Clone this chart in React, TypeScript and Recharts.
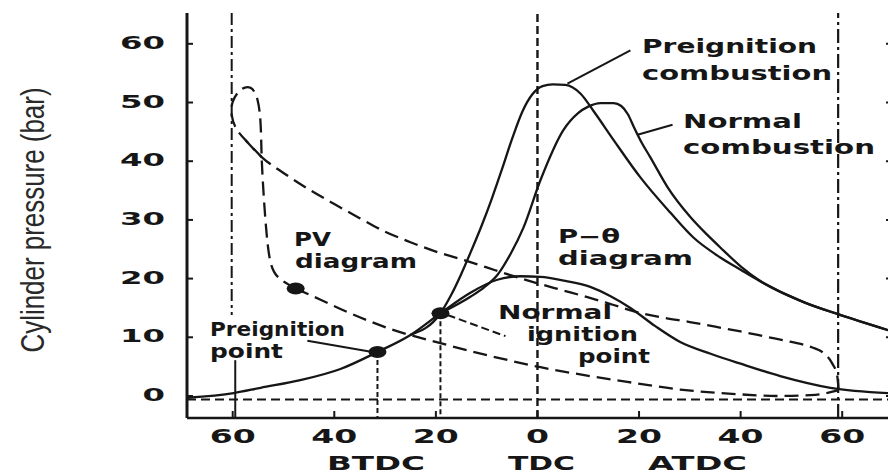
import React from 'react';
import {
  ComposedChart,
  Line,
  Scatter,
  XAxis,
  YAxis,
  ReferenceLine,
} from 'recharts';

// crank angle in degrees (negative = BTDC), pressure in bar
const motoringAngle = [-68.9, -59.8, -54.5, -46.7, -38.8, -31.5, -25.0, -19.1, -13.2, -7.9, -3.3, 0.6, 5.5, 10.4, 14.4, 18.3, 23.2, 28.1, 34.1, 40.0, 47.8, 57.7, 69.1];
const motoringPressure = [-0.3, 0.5, 1.4, 2.7, 4.6, 7.5, 10.4, 14.1, 17.6, 19.8, 20.4, 20.3, 19.6, 18.6, 17.0, 15.0, 11.9, 9.2, 7.2, 5.5, 3.4, 1.4, 0.5];

const preignitionAngle = [-25.0, -19.1, -17.0, -15.0, -13.0, -11.0, -9.0, -7.0, -5.0, -3.0, -1.0, 1.0, 3.0, 5.5, 8.5, 11.0, 15.0, 20.3, 26.2, 30.7, 36.0, 40.0, 43.5, 52.4, 59.3, 69.1];
const preignitionPressure = [10.4, 14.1, 17.2, 20.8, 24.8, 29.0, 33.6, 38.6, 43.8, 48.4, 51.4, 52.8, 53.1, 53.0, 51.5, 48.6, 43.6, 37.2, 31.2, 27.0, 23.6, 21.5, 19.7, 16.0, 13.9, 11.2];

const normalAngle = [-19.1, -13.2, -10.5, -7.9, -5.3, -2.8, 0.6, 5.1, 8.0, 10.0, 12.4, 15.0, 16.5, 17.8, 19.0, 20.5, 22.2, 25.6, 30.1, 33.5, 36.0, 40.0, 43.5, 52.4, 59.3, 69.1];
const normalPressure = [14.1, 16.9, 18.5, 20.6, 24.2, 28.6, 36.8, 45.3, 48.2, 49.3, 49.9, 49.9, 49.4, 48.0, 45.8, 43.2, 40.7, 35.6, 30.5, 27.4, 25.3, 22.1, 19.8, 16.0, 13.9, 11.2];

// PV diagram drawn on the same axes
const pvCompressionAngle = [-47.6, -42.7, -37.4, -28.9, -19.1, -8.7, 0.6, 11.0, 17.7, 28.1, 39.4, 47.8, 54.7, 59.3];
const pvCompressionPressure = [18.3, 16.4, 14.3, 11.4, 9.0, 6.7, 4.9, 3.3, 2.4, 1.1, 0.3, 0.0, 0.2, 1.0];

const pvLoopAngle = [-47.6, -50.6, -52.4, -53.3, -53.9, -54.3, -54.5, -55.1, -56.5, -58.5, -60.0, -60.2, -59.4, -57.5, -54.3];
const pvLoopPressure = [18.3, 19.9, 22.3, 27.4, 34.2, 40.7, 46.2, 50.4, 52.5, 52.1, 50.1, 47.9, 45.7, 43.6, 40.7];

const pvExpansionAngle = [-57.5, -54.3, -50.0, -45.0, -40.0, -35.0, -30.0, -25.0, -20.0, -15.0, -10.0, -5.0, 0.0, 5.0, 10.0, 15.0, 20.0, 25.0, 30.0, 35.0, 40.0, 45.0, 50.0, 54.0, 56.5, 58.0, 59.0, 59.3];
const pvExpansionPressure = [43.6, 40.7, 38.0, 35.2, 32.7, 30.3, 28.0, 26.2, 24.6, 23.3, 21.9, 20.5, 19.2, 18.0, 16.8, 15.5, 14.2, 13.3, 12.6, 11.8, 11.0, 10.1, 9.2, 8.3, 7.2, 5.6, 3.5, 1.0];

const markedAngle = [-47.6, -31.5, -19.1];
const markedPressure = [18.3, 7.5, 14.1];

const xTicks = [-60, -40, -20, 0, 20, 40, 60];
const yTicks = [0, 10, 20, 30, 40, 50, 60];

const X_DOMAIN: [number, number] = [-69, 70];
const Y_DOMAIN: [number, number] = [-3.75, 65.25];

const INK = '#161616';
const FONT = '"DejaVu Sans", sans-serif';

const pts = (xs: number[], ys: number[]) => xs.map((x, i) => ({ x, y: ys[i] }));

const motoring = pts(motoringAngle, motoringPressure);
const preignition = pts(preignitionAngle, preignitionPressure);
const normal = pts(normalAngle, normalPressure);
const pvCompression = pts(pvCompressionAngle, pvCompressionPressure);
const pvLoop = pts(pvLoopAngle, pvLoopPressure);
const pvExpansion = pts(pvExpansionAngle, pvExpansionPressure);
const marked = pts(markedAngle, markedPressure);

const LeftTick = (props: any) => {
  const { x, y, payload } = props;
  const s = String(payload.value);
  return (
    <g>
      <line x1={x} y1={y} x2={x + 6} y2={y} stroke={INK} strokeWidth={2} />
      <text x={x - 22} y={y + 5} textAnchor="end" fontSize={18} fontWeight="bold" fontFamily={FONT} fill={INK}
        textLength={s.length * 22.5} lengthAdjust="spacingAndGlyphs">{s}</text>
    </g>
  );
};

const RightTick = (props: any) => {
  const { x, y } = props;
  return <line x1={x} y1={y} x2={x - 7} y2={y} stroke={INK} strokeWidth={2} />;
};

const BottomTick = (props: any) => {
  const { x, y, payload } = props;
  const s = String(Math.abs(payload.value));
  return (
    <g>
      <line x1={x} y1={y} x2={x} y2={y - 7} stroke={INK} strokeWidth={2} />
      <text x={x} y={y + 25} textAnchor="middle" fontSize={20} fontWeight="bold" fontFamily={FONT} fill={INK}
        textLength={s.length * 23} lengthAdjust="spacingAndGlyphs">{s}</text>
    </g>
  );
};

const TopTick = (props: any) => {
  const { x, y } = props;
  return <line x1={x} y1={y} x2={x} y2={y + 7} stroke={INK} strokeWidth={2} />;
};

const Blob = (props: any) => <ellipse cx={props.cx} cy={props.cy} rx={9} ry={6} fill={INK} />;

const notes = [
  { t: 'Preignition', x: 642, y: 53, w: 175 },
  { t: 'combustion', x: 642, y: 80, w: 190 },
  { t: 'Normal', x: 683, y: 128, w: 119 },
  { t: 'combustion', x: 683, y: 154, w: 192 },
  { t: 'PV', x: 294, y: 246, w: 37 },
  { t: 'diagram', x: 295, y: 268, w: 122 },
  { t: 'P−θ', x: 558, y: 243, w: 62 },
  { t: 'diagram', x: 558, y: 265, w: 135 },
  { t: 'Normal', x: 498, y: 319, w: 114 },
  { t: 'ignition', x: 527, y: 341, w: 111 },
  { t: 'point', x: 578, y: 363, w: 72 },
  { t: 'Preignition', x: 210, y: 336, w: 135 },
  { t: 'point', x: 210, y: 358, w: 73 },
  { t: 'BTDC', x: 327, y: 470, w: 98 },
  { t: 'TDC', x: 508, y: 470, w: 67 },
  { t: 'ATDC', x: 648, y: 470, w: 99 },
];

export default function App() {
  const line = { stroke: INK, strokeWidth: 2.3, dot: false, isAnimationActive: false, dataKey: 'y' } as const;
  return (
    <div style={{ position: 'absolute', left: 0, top: 0, width: 888, height: 475, overflow: 'hidden', background: '#fff' }}>
      <ComposedChart width={900} height={475} margin={{ top: 13, right: 0, bottom: 0, left: 0 }}>
        <XAxis dataKey="x" type="number" domain={X_DOMAIN} ticks={xTicks} allowDataOverflow
          height={57} tickSize={0} tickMargin={0} tickLine={false} tick={<BottomTick />}
          axisLine={{ stroke: INK, strokeWidth: 2.5 }} />
        <XAxis xAxisId="top" orientation="top" dataKey="x" type="number" domain={X_DOMAIN} ticks={xTicks}
          allowDataOverflow height={0} tickSize={0} tickMargin={0} tickLine={false} tick={<TopTick />}
          axisLine={{ stroke: INK, strokeWidth: 2 }} />
        <YAxis type="number" domain={Y_DOMAIN} ticks={yTicks} allowDataOverflow width={187}
          tickSize={0} tickMargin={0} tickLine={false} tick={<LeftTick />}
          axisLine={{ stroke: INK, strokeWidth: 3 }} />
        <YAxis yAxisId="right" orientation="right" type="number" domain={Y_DOMAIN} ticks={yTicks}
          allowDataOverflow width={7} tickSize={0} tickMargin={0} tickLine={false} tick={<RightTick />}
          axisLine={{ stroke: INK, strokeWidth: 2.5 }} />

        <ReferenceLine segment={[{ x: -60.2, y: 65.25 }, { x: -60.2, y: 13.8 }]} stroke={INK} strokeWidth={2} strokeDasharray="12 4 3 4" />
        <ReferenceLine segment={[{ x: -59.5, y: 6.1 }, { x: -59.5, y: -3.75 }]} stroke={INK} strokeWidth={2} />
        <ReferenceLine x={0} stroke={INK} strokeWidth={2.4} strokeDasharray="8 4" />
        <ReferenceLine x={59.2} stroke={INK} strokeWidth={2.2} strokeDasharray="14 4 3 4" />
        <ReferenceLine segment={[{ x: -31.5, y: 7.5 }, { x: -31.5, y: -3.75 }]} stroke={INK} strokeWidth={2} strokeDasharray="5 3" />
        <ReferenceLine segment={[{ x: -19.1, y: 14.1 }, { x: -19.1, y: -3.75 }]} stroke={INK} strokeWidth={2} strokeDasharray="5 3" />
        <ReferenceLine y={-0.6} stroke={INK} strokeWidth={2} strokeDasharray="9 5" />

        <ReferenceLine segment={[{ x: 18.3, y: 58.9 }, { x: 5.9, y: 53.2 }]} stroke={INK} strokeWidth={2} />
        <ReferenceLine segment={[{ x: 26.6, y: 46.2 }, { x: 19.7, y: 44.5 }]} stroke={INK} strokeWidth={2} />
        <ReferenceLine segment={[{ x: -45.3, y: 9.4 }, { x: -32.5, y: 7.5 }]} stroke={INK} strokeWidth={2} />
        <ReferenceLine segment={[{ x: -17.7, y: 13.8 }, { x: -6.3, y: 10.2 }]} stroke={INK} strokeWidth={2} strokeDasharray="8 4" />

        <Line data={motoring} type="monotone" {...line} />
        <Line data={preignition} type="monotone" {...line} />
        <Line data={normal} type="monotone" {...line} />
        <Line data={pvCompression} type="monotone" {...line} strokeDasharray="14 7" />
        <Line data={pvLoop} type="natural" {...line} strokeDasharray="14 7" />
        <Line data={pvExpansion} type="monotone" {...line} strokeDasharray="14 7" />
        <Scatter data={marked} dataKey="y" shape={<Blob />} isAnimationActive={false} />
      </ComposedChart>

      <svg width={888} height={475} style={{ position: 'absolute', left: 0, top: 0, pointerEvents: 'none' }}>
        <text transform="translate(33,220) scale(1.35,1) rotate(-90)" textAnchor="middle" dominantBaseline="central"
          fontSize={24} fontFamily='"Liberation Sans", Arial, sans-serif' fill="#2a2a2a"
          textLength={265} lengthAdjust="spacingAndGlyphs">Cylinder pressure (bar)</text>
        {notes.map((n, i) => (
          <text key={i} x={n.x} y={n.y} fontSize={19} fontWeight="bold" fontFamily={FONT} fill={INK}
            textLength={n.w} lengthAdjust="spacingAndGlyphs">{n.t}</text>
        ))}
      </svg>
    </div>
  );
}
